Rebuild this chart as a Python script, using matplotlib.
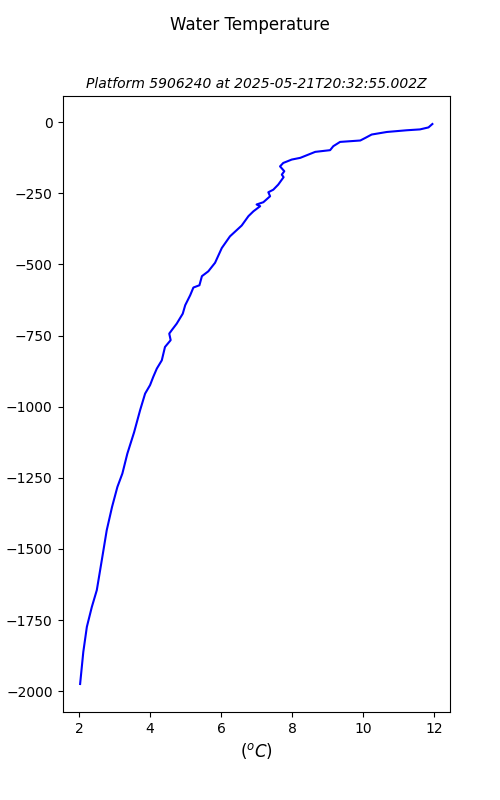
import matplotlib
matplotlib.use("Agg")
import matplotlib.pyplot as plt

# perfil (temperatura em oC, profundidade em m)
temperatura = [11.95, 11.84, 11.6, 11.23, 10.67, 10.24, 10.06, 9.92, 9.35, 9.16, 9.07,
               8.65, 8.41, 8.23, 7.99, 7.75, 7.66, 7.78, 7.71, 7.76, 7.61, 7.47, 7.33,
               7.38, 7.19, 7.0, 7.1, 6.91, 6.77, 6.58, 6.25, 6.02, 5.83, 5.64, 5.46,
               5.39, 5.22, 5.13, 4.99, 4.92, 4.75, 4.61, 4.54, 4.58, 4.42, 4.33, 4.19,
               4.09, 4.0, 3.86, 3.72, 3.55, 3.36, 3.22, 3.08, 2.93, 2.78, 2.64, 2.5,
               2.36, 2.22, 2.12, 2.03]
profundidade = [-6, -18, -25, -28, -34, -43, -55, -64, -69, -84, -98,
                -104, -116, -125, -131, -143, -155, -172, -184, -193, -219, -237, -246,
                -260, -281, -289, -295, -313, -330, -363, -401, -442, -494, -524, -541,
                -573, -581, -608, -643, -673, -708, -731, -743, -766, -790, -837, -866,
                -895, -924, -954, -1012, -1090, -1165, -1235, -1282, -1352, -1434, -1540, -1645,
                -1704, -1774, -1862, -1975]

fig, ax = plt.subplots(figsize=(5, 8))
fig.suptitle("Water Temperature")
ax.set_title("Platform 5906240 at 2025-05-21T20:32:55.002Z", fontsize=10, style="italic")
ax.plot(temperatura, profundidade, c="blue")
ax.set_xlabel("$(^oC)$", fontsize=12)
ax.set_ylabel("depth (m)")

fig.savefig("out.png", dpi=100)
